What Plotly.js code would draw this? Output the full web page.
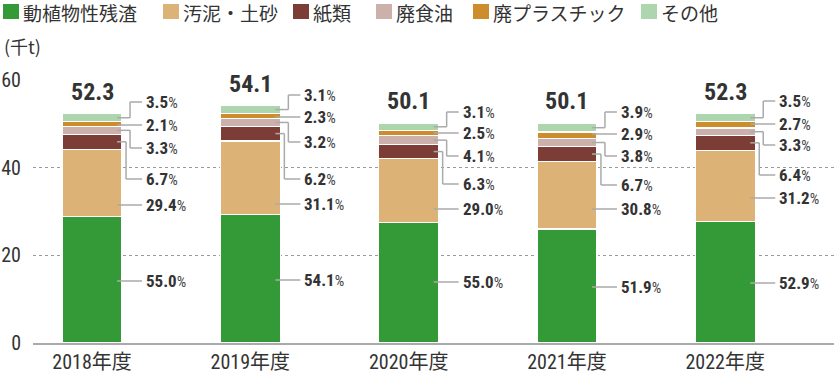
<!DOCTYPE html>
<html><head><meta charset="utf-8">
<script src="https://cdn.plot.ly/plotly-3.0.1.min.js"></script>
<style>html,body{margin:0;padding:0;background:#fff}</style>
</head><body>
<div id="chart" style="width:834px;height:372px"></div>
<script>
// ---- data (thousand tonnes) ----
const categories = ['2018年度','2019年度','2020年度','2021年度','2022年度'];
const seriesNames = ['動植物性残渣','汚泥・土砂','紙類','廃食油','廃プラスチック','その他'];
const food    = [28.77, 29.27, 27.56, 26.00, 27.67];
const sludge  = [15.38, 16.83, 14.53, 15.43, 16.32];
const paperW  = [3.50, 3.35, 3.16, 3.36, 3.35];
const oil     = [1.73, 1.73, 2.05, 1.90, 1.73];
const plastic = [1.10, 1.24, 1.25, 1.45, 1.41];
const other   = [1.83, 1.68, 1.55, 1.95, 1.83];
const totals  = [52.3, 54.1, 50.1, 50.1, 52.3];
// share labels (%)
const pctFood    = [55.0, 54.1, 55.0, 51.9, 52.9];
const pctSludge  = [29.4, 31.1, 29.0, 30.8, 31.2];
const pctPaper   = [6.7, 6.2, 6.3, 6.7, 6.4];
const pctOil     = [3.3, 3.2, 4.1, 3.8, 3.3];
const pctPlastic = [2.1, 2.3, 2.5, 2.9, 2.7];
const pctOther   = [3.5, 3.1, 3.1, 3.9, 3.5];
const yTicks = [0, 20, 40, 60];
const yUnit = '(千t)';

// ---- styling / layout constants ----
const colors = ['#349937','#dcb277','#7b3d35','#cbb0ac','#cd8d2d','#aed6ae'];
const NUM = 'Roboto Condensed, Liberation Sans Narrow, DejaVu Sans Condensed, Noto Sans CJK JP, sans-serif';
const JP = 'Noto Sans CJK JP, sans-serif';
const TXT = '#333333';
const L = 33, T = 80, W = 834 - 33, H = 263, B = T + H;
const xr = [-0.373, 4.687];
const sp = W / (xr[1] - xr[0]);      // px per category
const barW = 60 / sp;
const pyToY = py => (B - py) / H * 60;
const pxToPaperX = px => (px - L) / W;
const pyToPaperY = py => (B - py) / H;
// label centre positions (px) per year: food, sludge, paper, oil, plastic, other
const labelPy = [
  [281, 205, 179, 148, 125, 102],
  [280, 204, 179, 142, 117, 95],
  [282, 209, 184, 156, 133, 112],
  [287, 209, 185, 156, 134, 112],
  [283, 198, 175, 145, 124, 101]
];

const series = [food, sludge, paperW, oil, plastic, other];
const pcts = [pctFood, pctSludge, pctPaper, pctOil, pctPlastic, pctOther];

const traces = series.map((vals, k) => ({
  type: 'bar', x: categories, y: vals, name: seriesNames[k],
  width: barW, marker: {color: colors[k], line: {color: '#ffffff', width: 1.2}},
  hoverinfo: 'skip', showlegend: false
}));

const annotations = [];
const shapes = [];
const lineStyle = {color: '#aaaaaa', width: 1.5};

categories.forEach((c, i) => {
  // total
  annotations.push({x: i, y: totals[i], xref: 'x', yref: 'y', yanchor: 'bottom', yshift: 6,
    showarrow: false, text: '<b>' + totals[i].toFixed(1) + '</b>',
    font: {family: NUM, size: 24, color: TXT}});
  let cum = 0;
  series.forEach((vals, k) => {
    const mid = cum + vals[i] / 2;
    cum += vals[i];
    const ly = pyToY(labelPy[i][k]);
    const x0 = i + 25 / sp, xe = i + 50 / sp;
    if (k === 0 || k === 1 || k === 4) {
      shapes.push({type: 'line', xref: 'x', yref: 'y', x0: x0, x1: xe, y0: ly, y1: ly, line: lineStyle});
    } else {
      const xb = i + (k === 2 ? 34 : 38) / sp;
      shapes.push({type: 'line', xref: 'x', yref: 'y', x0: x0, x1: xb, y0: mid, y1: mid, line: lineStyle});
      shapes.push({type: 'line', xref: 'x', yref: 'y', x0: xb, x1: xb, y0: mid, y1: ly, line: lineStyle});
      shapes.push({type: 'line', xref: 'x', yref: 'y', x0: xb, x1: xe, y0: ly, y1: ly, line: lineStyle});
    }
    annotations.push({x: i + 52 / sp, y: ly, xref: 'x', yref: 'y', xanchor: 'left', yanchor: 'middle',
      showarrow: false,
      text: '<b>' + pcts[k][i].toFixed(1) + '</b><span style="font-size:15px;fill:#444444">%</span>',
      font: {family: NUM, size: 17, color: TXT}});
  });
});

// custom legend
const legendX = [3, 163, 293, 376, 473, 641];
seriesNames.forEach((n, k) => {
  shapes.push({type: 'rect', xref: 'paper', yref: 'paper', layer: 'above',
    x0: pxToPaperX(legendX[k]), x1: pxToPaperX(legendX[k] + 16),
    y0: pyToPaperY(19), y1: pyToPaperY(4),
    fillcolor: colors[k], line: {width: 0}});
  annotations.push({xref: 'paper', yref: 'paper', x: pxToPaperX(legendX[k] + 18), y: pyToPaperY(13),
    xanchor: 'left', yanchor: 'middle', showarrow: false, text: n,
    font: {family: JP, size: 19, color: TXT}});
});
annotations.push({xref: 'paper', yref: 'paper', x: pxToPaperX(2), y: pyToPaperY(46),
  xanchor: 'left', yanchor: 'middle', showarrow: false, text: yUnit,
  font: {family: JP, size: 18, color: TXT}});

const layout = {
  width: 834, height: 372,
  margin: {l: L, r: 0, t: T, b: 372 - B, pad: 0},
  paper_bgcolor: '#fff', plot_bgcolor: '#fff',
  barmode: 'stack', showlegend: false,
  xaxis: {type: 'category', range: xr, showgrid: false, zeroline: false,
    showline: true, linecolor: '#aaaaaa', linewidth: 1.5, ticks: '',
    tickfont: {family: NUM, size: 20, color: TXT}},
  yaxis: {range: [0, 60], tickvals: yTicks, showgrid: true, gridcolor: '#9a9a9a',
    griddash: 'dot', gridwidth: 1, zeroline: false, showline: false, ticks: '',
    ticklabelstandoff: 11,
    tickfont: {family: NUM, size: 20, color: TXT}},
  annotations: annotations, shapes: shapes
};
Plotly.newPlot('chart', traces, layout, {displayModeBar: false, staticPlot: true});
</script>
</body></html>
